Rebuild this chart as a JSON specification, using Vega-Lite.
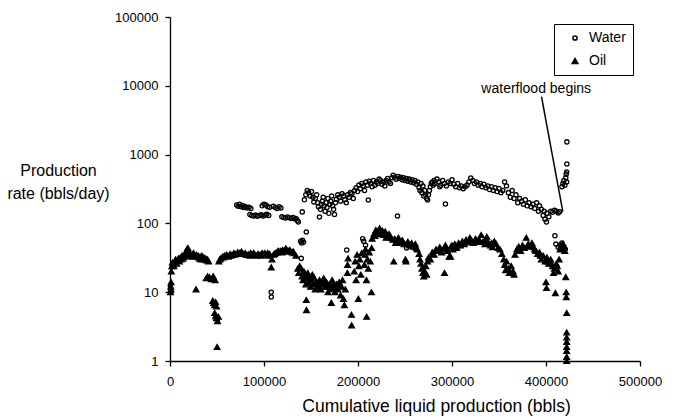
{
  "$schema": "https://vega.github.io/schema/vega-lite/v6.json",
  "width": 470,
  "height": 344,
  "autosize": {"type": "none"},
  "padding": {"left": 170, "top": 17, "right": 36, "bottom": 58},
  "config": {
    "view": {"stroke": null},
    "font": "Liberation Sans",
    "axis": {"domainColor": "black", "tickColor": "black", "labelColor": "black", "titleColor": "black", "grid": false, "labelFont": "Liberation Sans", "titleFont": "Liberation Sans", "labelFontSize": 13, "titleFontWeight": "normal", "tickSize": 5, "domainWidth": 1.3, "tickWidth": 1.3}
  },
  "datasets": {
    "pts": [
{"cum":500,"rate":10,"fluid":"Oil"},{"cum":800,"rate":12,"fluid":"Oil"},{"cum":1000,"rate":11,"fluid":"Oil"},{"cum":1200,"rate":14,"fluid":"Oil"},{"cum":1500,"rate":20,"fluid":"Oil"},{"cum":2000,"rate":24,"fluid":"Oil"},{"cum":2500,"rate":27,"fluid":"Oil"},{"cum":3000,"rate":25,"fluid":"Oil"},
{"cum":4000,"rate":24,"fluid":"Oil"},{"cum":5000,"rate":27,"fluid":"Oil"},{"cum":6000,"rate":30,"fluid":"Oil"},{"cum":7000,"rate":26,"fluid":"Oil"},{"cum":8000,"rate":29,"fluid":"Oil"},{"cum":9000,"rate":31,"fluid":"Oil"},{"cum":10000,"rate":28,"fluid":"Oil"},{"cum":11000,"rate":32,"fluid":"Oil"},{"cum":12000,"rate":30,"fluid":"Oil"},{"cum":13000,"rate":34,"fluid":"Oil"},{"cum":14000,"rate":31,"fluid":"Oil"},{"cum":15000,"rate":33,"fluid":"Oil"},{"cum":16000,"rate":36,"fluid":"Oil"},{"cum":17000,"rate":38,"fluid":"Oil"},{"cum":18000,"rate":42,"fluid":"Oil"},{"cum":19000,"rate":44,"fluid":"Oil"},{"cum":20000,"rate":38,"fluid":"Oil"},{"cum":21000,"rate":34,"fluid":"Oil"},{"cum":22000,"rate":36,"fluid":"Oil"},{"cum":23000,"rate":33,"fluid":"Oil"},{"cum":24000,"rate":35,"fluid":"Oil"},{"cum":25000,"rate":37,"fluid":"Oil"},{"cum":26000,"rate":34,"fluid":"Oil"},{"cum":27700,"rate":11,"fluid":"Oil"},{"cum":28000,"rate":35,"fluid":"Oil"},{"cum":29000,"rate":33,"fluid":"Oil"},{"cum":30000,"rate":34,"fluid":"Oil"},{"cum":31000,"rate":31,"fluid":"Oil"},{"cum":32000,"rate":33,"fluid":"Oil"},{"cum":33000,"rate":30,"fluid":"Oil"},{"cum":34000,"rate":34,"fluid":"Oil"},{"cum":35000,"rate":31,"fluid":"Oil"},{"cum":36000,"rate":32,"fluid":"Oil"},{"cum":37000,"rate":30,"fluid":"Oil"},{"cum":38000,"rate":31,"fluid":"Oil"},{"cum":39000,"rate":29,"fluid":"Oil"},{"cum":40000,"rate":30,"fluid":"Oil"},{"cum":41000,"rate":28,"fluid":"Oil"},
{"cum":38500,"rate":16,"fluid":"Oil"},{"cum":40000,"rate":17,"fluid":"Oil"},{"cum":42000,"rate":16.5,"fluid":"Oil"},{"cum":44000,"rate":15.5,"fluid":"Oil"},{"cum":46000,"rate":17,"fluid":"Oil"},{"cum":48000,"rate":15,"fluid":"Oil"},
{"cum":45500,"rate":7.5,"fluid":"Oil"},{"cum":46500,"rate":7,"fluid":"Oil"},{"cum":47500,"rate":6.5,"fluid":"Oil"},{"cum":48500,"rate":7.2,"fluid":"Oil"},{"cum":49500,"rate":6.2,"fluid":"Oil"},
{"cum":47500,"rate":5,"fluid":"Oil"},{"cum":48500,"rate":4.5,"fluid":"Oil"},{"cum":49500,"rate":4.2,"fluid":"Oil"},{"cum":50500,"rate":3.8,"fluid":"Oil"},{"cum":51500,"rate":4.4,"fluid":"Oil"},{"cum":50100,"rate":1.6,"fluid":"Oil"},
{"cum":52000,"rate":28,"fluid":"Oil"},{"cum":54000,"rate":31,"fluid":"Oil"},{"cum":56000,"rate":33,"fluid":"Oil"},{"cum":58000,"rate":34,"fluid":"Oil"},{"cum":60000,"rate":35,"fluid":"Oil"},{"cum":62000,"rate":33,"fluid":"Oil"},{"cum":64000,"rate":36,"fluid":"Oil"},{"cum":66000,"rate":35,"fluid":"Oil"},{"cum":68000,"rate":37,"fluid":"Oil"},{"cum":70000,"rate":36,"fluid":"Oil"},{"cum":72000,"rate":38,"fluid":"Oil"},{"cum":74000,"rate":37,"fluid":"Oil"},{"cum":76000,"rate":39,"fluid":"Oil"},{"cum":78000,"rate":36,"fluid":"Oil"},{"cum":80000,"rate":37,"fluid":"Oil"},{"cum":82000,"rate":35,"fluid":"Oil"},{"cum":84000,"rate":36,"fluid":"Oil"},{"cum":86000,"rate":37,"fluid":"Oil"},{"cum":88000,"rate":35,"fluid":"Oil"},{"cum":90000,"rate":36,"fluid":"Oil"},{"cum":92000,"rate":34,"fluid":"Oil"},{"cum":94000,"rate":36,"fluid":"Oil"},{"cum":96000,"rate":35,"fluid":"Oil"},{"cum":98000,"rate":37,"fluid":"Oil"},{"cum":100000,"rate":36,"fluid":"Oil"},{"cum":102000,"rate":35,"fluid":"Oil"},{"cum":104000,"rate":37,"fluid":"Oil"},{"cum":106000,"rate":36,"fluid":"Oil"},{"cum":107700,"rate":23,"fluid":"Oil"},{"cum":108500,"rate":30,"fluid":"Oil"},{"cum":110000,"rate":35,"fluid":"Oil"},{"cum":112000,"rate":37,"fluid":"Oil"},{"cum":114000,"rate":38,"fluid":"Oil"},{"cum":116000,"rate":39,"fluid":"Oil"},{"cum":118000,"rate":40,"fluid":"Oil"},{"cum":120000,"rate":41,"fluid":"Oil"},{"cum":122000,"rate":40,"fluid":"Oil"},{"cum":124000,"rate":42,"fluid":"Oil"},{"cum":126000,"rate":39,"fluid":"Oil"},{"cum":128000,"rate":40,"fluid":"Oil"},{"cum":130000,"rate":38,"fluid":"Oil"},{"cum":132000,"rate":37,"fluid":"Oil"},{"cum":134000,"rate":34,"fluid":"Oil"},
{"cum":53000,"rate":30,"fluid":"Oil"},{"cum":57000,"rate":32,"fluid":"Oil"},{"cum":61000,"rate":34,"fluid":"Oil"},{"cum":65000,"rate":34,"fluid":"Oil"},{"cum":69000,"rate":35,"fluid":"Oil"},{"cum":73000,"rate":36,"fluid":"Oil"},{"cum":77000,"rate":37,"fluid":"Oil"},{"cum":81000,"rate":35,"fluid":"Oil"},{"cum":85000,"rate":34,"fluid":"Oil"},{"cum":89000,"rate":37,"fluid":"Oil"},{"cum":93000,"rate":35,"fluid":"Oil"},{"cum":97000,"rate":34,"fluid":"Oil"},{"cum":101000,"rate":37,"fluid":"Oil"},{"cum":105000,"rate":34,"fluid":"Oil"},{"cum":111000,"rate":36,"fluid":"Oil"},{"cum":115000,"rate":40,"fluid":"Oil"},{"cum":119000,"rate":38,"fluid":"Oil"},{"cum":123000,"rate":43,"fluid":"Oil"},{"cum":127000,"rate":41,"fluid":"Oil"},{"cum":131000,"rate":39,"fluid":"Oil"},
{"cum":136000,"rate":22,"fluid":"Oil"},{"cum":137000,"rate":19,"fluid":"Oil"},{"cum":138000,"rate":24,"fluid":"Oil"},{"cum":139600,"rate":22,"fluid":"Oil"},{"cum":140500,"rate":17,"fluid":"Oil"},{"cum":141500,"rate":15,"fluid":"Oil"},{"cum":142500,"rate":20,"fluid":"Oil"},{"cum":143500,"rate":18,"fluid":"Oil"},{"cum":144500,"rate":13,"fluid":"Oil"},{"cum":145500,"rate":16,"fluid":"Oil"},{"cum":146500,"rate":19,"fluid":"Oil"},{"cum":147500,"rate":14,"fluid":"Oil"},{"cum":148500,"rate":17,"fluid":"Oil"},{"cum":149500,"rate":12,"fluid":"Oil"},{"cum":150500,"rate":15,"fluid":"Oil"},{"cum":151500,"rate":18,"fluid":"Oil"},{"cum":152500,"rate":13,"fluid":"Oil"},{"cum":153500,"rate":16,"fluid":"Oil"},{"cum":154500,"rate":11,"fluid":"Oil"},{"cum":145000,"rate":7.7,"fluid":"Oil"},{"cum":145200,"rate":5.5,"fluid":"Oil"},{"cum":156000,"rate":14,"fluid":"Oil"},{"cum":157500,"rate":12,"fluid":"Oil"},{"cum":159000,"rate":15,"fluid":"Oil"},{"cum":160500,"rate":11,"fluid":"Oil"},{"cum":162000,"rate":13,"fluid":"Oil"},{"cum":163500,"rate":16,"fluid":"Oil"},{"cum":165000,"rate":12,"fluid":"Oil"},{"cum":166500,"rate":14,"fluid":"Oil"},{"cum":168000,"rate":10,"fluid":"Oil"},{"cum":169500,"rate":13,"fluid":"Oil"},{"cum":171000,"rate":11,"fluid":"Oil"},{"cum":172500,"rate":15,"fluid":"Oil"},{"cum":174000,"rate":12,"fluid":"Oil"},{"cum":175500,"rate":10,"fluid":"Oil"},{"cum":177000,"rate":13,"fluid":"Oil"},{"cum":178500,"rate":11,"fluid":"Oil"},{"cum":180000,"rate":14,"fluid":"Oil"},{"cum":181500,"rate":9,"fluid":"Oil"},{"cum":182500,"rate":12,"fluid":"Oil"},{"cum":183500,"rate":15,"fluid":"Oil"},{"cum":184500,"rate":8,"fluid":"Oil"},{"cum":185500,"rate":6.5,"fluid":"Oil"},{"cum":171600,"rate":7,"fluid":"Oil"},{"cum":186500,"rate":11,"fluid":"Oil"},{"cum":188700,"rate":19,"fluid":"Oil"},{"cum":188900,"rate":25,"fluid":"Oil"},{"cum":189500,"rate":31,"fluid":"Oil"},{"cum":193000,"rate":4.7,"fluid":"Oil"},{"cum":193200,"rate":3.3,"fluid":"Oil"},{"cum":196000,"rate":20,"fluid":"Oil"},{"cum":197000,"rate":28,"fluid":"Oil"},{"cum":198000,"rate":15,"fluid":"Oil"},{"cum":199000,"rate":35,"fluid":"Oil"},{"cum":200400,"rate":8,"fluid":"Oil"},{"cum":201000,"rate":24,"fluid":"Oil"},{"cum":202000,"rate":30,"fluid":"Oil"},{"cum":203000,"rate":18,"fluid":"Oil"},{"cum":204000,"rate":37,"fluid":"Oil"},{"cum":206800,"rate":25,"fluid":"Oil"},{"cum":207500,"rate":35,"fluid":"Oil"},{"cum":208000,"rate":42,"fluid":"Oil"},{"cum":209000,"rate":15,"fluid":"Oil"},{"cum":209200,"rate":4.4,"fluid":"Oil"},{"cum":210000,"rate":30,"fluid":"Oil"},{"cum":211000,"rate":22,"fluid":"Oil"},{"cum":212000,"rate":38,"fluid":"Oil"},{"cum":213000,"rate":28,"fluid":"Oil"},{"cum":214300,"rate":10,"fluid":"Oil"},{"cum":214500,"rate":44,"fluid":"Oil"},
{"cum":158000,"rate":13,"fluid":"Oil"},{"cum":161500,"rate":14,"fluid":"Oil"},{"cum":164500,"rate":13.5,"fluid":"Oil"},{"cum":167500,"rate":12,"fluid":"Oil"},{"cum":170500,"rate":12.5,"fluid":"Oil"},{"cum":173500,"rate":13,"fluid":"Oil"},{"cum":176500,"rate":11.5,"fluid":"Oil"},{"cum":179500,"rate":12,"fluid":"Oil"},{"cum":143000,"rate":16,"fluid":"Oil"},{"cum":147000,"rate":17,"fluid":"Oil"},{"cum":151000,"rate":16,"fluid":"Oil"},
{"cum":215000,"rate":60,"fluid":"Oil"},{"cum":217000,"rate":70,"fluid":"Oil"},{"cum":219000,"rate":80,"fluid":"Oil"},{"cum":221000,"rate":75,"fluid":"Oil"},{"cum":223000,"rate":85,"fluid":"Oil"},{"cum":225000,"rate":72,"fluid":"Oil"},{"cum":227000,"rate":68,"fluid":"Oil"},{"cum":229000,"rate":76,"fluid":"Oil"},{"cum":231000,"rate":65,"fluid":"Oil"},{"cum":233000,"rate":70,"fluid":"Oil"},{"cum":235000,"rate":62,"fluid":"Oil"},{"cum":237000,"rate":58,"fluid":"Oil"},{"cum":238000,"rate":28,"fluid":"Oil"},{"cum":239000,"rate":60,"fluid":"Oil"},{"cum":241000,"rate":55,"fluid":"Oil"},{"cum":243000,"rate":62,"fluid":"Oil"},{"cum":245000,"rate":52,"fluid":"Oil"},{"cum":247000,"rate":57,"fluid":"Oil"},{"cum":249000,"rate":50,"fluid":"Oil"},{"cum":250500,"rate":30,"fluid":"Oil"},{"cum":251000,"rate":28,"fluid":"Oil"},{"cum":253000,"rate":54,"fluid":"Oil"},{"cum":255000,"rate":48,"fluid":"Oil"},{"cum":257000,"rate":52,"fluid":"Oil"},{"cum":259000,"rate":46,"fluid":"Oil"},{"cum":261000,"rate":50,"fluid":"Oil"},{"cum":263000,"rate":42,"fluid":"Oil"},{"cum":265000,"rate":36,"fluid":"Oil"},{"cum":266000,"rate":30,"fluid":"Oil"},{"cum":267000,"rate":26,"fluid":"Oil"},{"cum":268000,"rate":22,"fluid":"Oil"},{"cum":269000,"rate":19,"fluid":"Oil"},{"cum":270000,"rate":17,"fluid":"Oil"},{"cum":271000,"rate":20,"fluid":"Oil"},{"cum":272000,"rate":24,"fluid":"Oil"},{"cum":273000,"rate":18,"fluid":"Oil"},{"cum":274000,"rate":28,"fluid":"Oil"},{"cum":275000,"rate":32,"fluid":"Oil"},{"cum":277000,"rate":30,"fluid":"Oil"},{"cum":279000,"rate":38,"fluid":"Oil"},{"cum":281000,"rate":35,"fluid":"Oil"},{"cum":283000,"rate":42,"fluid":"Oil"},{"cum":285000,"rate":40,"fluid":"Oil"},{"cum":287000,"rate":45,"fluid":"Oil"},{"cum":289000,"rate":38,"fluid":"Oil"},{"cum":291000,"rate":43,"fluid":"Oil"},{"cum":292000,"rate":19,"fluid":"Oil"},{"cum":293000,"rate":48,"fluid":"Oil"},{"cum":295000,"rate":40,"fluid":"Oil"},{"cum":297000,"rate":33,"fluid":"Oil"},{"cum":298500,"rate":33,"fluid":"Oil"},{"cum":299000,"rate":46,"fluid":"Oil"},{"cum":301000,"rate":42,"fluid":"Oil"},{"cum":303000,"rate":50,"fluid":"Oil"},{"cum":305000,"rate":44,"fluid":"Oil"},{"cum":307000,"rate":52,"fluid":"Oil"},{"cum":309000,"rate":48,"fluid":"Oil"},{"cum":311000,"rate":55,"fluid":"Oil"},{"cum":313000,"rate":50,"fluid":"Oil"},{"cum":315000,"rate":58,"fluid":"Oil"},{"cum":317000,"rate":53,"fluid":"Oil"},{"cum":319000,"rate":62,"fluid":"Oil"},{"cum":321000,"rate":56,"fluid":"Oil"},{"cum":323000,"rate":52,"fluid":"Oil"},{"cum":325000,"rate":60,"fluid":"Oil"},{"cum":327000,"rate":55,"fluid":"Oil"},{"cum":329000,"rate":58,"fluid":"Oil"},{"cum":331000,"rate":68,"fluid":"Oil"},{"cum":333000,"rate":54,"fluid":"Oil"},{"cum":335000,"rate":50,"fluid":"Oil"},{"cum":337000,"rate":64,"fluid":"Oil"},{"cum":339000,"rate":52,"fluid":"Oil"},{"cum":341000,"rate":48,"fluid":"Oil"},{"cum":343000,"rate":45,"fluid":"Oil"},{"cum":345000,"rate":55,"fluid":"Oil"},{"cum":347000,"rate":50,"fluid":"Oil"},{"cum":349000,"rate":44,"fluid":"Oil"},{"cum":351000,"rate":42,"fluid":"Oil"},{"cum":353000,"rate":36,"fluid":"Oil"},{"cum":355000,"rate":30,"fluid":"Oil"},{"cum":356000,"rate":25,"fluid":"Oil"},{"cum":357000,"rate":21,"fluid":"Oil"},{"cum":358000,"rate":28,"fluid":"Oil"},{"cum":360000,"rate":22,"fluid":"Oil"},{"cum":361000,"rate":19,"fluid":"Oil"},{"cum":363000,"rate":24,"fluid":"Oil"},{"cum":365000,"rate":20,"fluid":"Oil"},{"cum":366000,"rate":18,"fluid":"Oil"},{"cum":367000,"rate":35,"fluid":"Oil"},{"cum":369000,"rate":42,"fluid":"Oil"},{"cum":371000,"rate":46,"fluid":"Oil"},{"cum":373000,"rate":40,"fluid":"Oil"},{"cum":375000,"rate":48,"fluid":"Oil"},{"cum":377000,"rate":44,"fluid":"Oil"},{"cum":379000,"rate":62,"fluid":"Oil"},{"cum":381000,"rate":50,"fluid":"Oil"},{"cum":383000,"rate":46,"fluid":"Oil"},{"cum":385000,"rate":52,"fluid":"Oil"},{"cum":387000,"rate":45,"fluid":"Oil"},{"cum":389000,"rate":40,"fluid":"Oil"},{"cum":391000,"rate":36,"fluid":"Oil"},{"cum":393000,"rate":38,"fluid":"Oil"},{"cum":395000,"rate":30,"fluid":"Oil"},{"cum":397000,"rate":34,"fluid":"Oil"},{"cum":399000,"rate":28,"fluid":"Oil"},{"cum":400000,"rate":14,"fluid":"Oil"},{"cum":400500,"rate":11.5,"fluid":"Oil"},{"cum":401000,"rate":32,"fluid":"Oil"},{"cum":403000,"rate":26,"fluid":"Oil"},{"cum":405000,"rate":30,"fluid":"Oil"},{"cum":407000,"rate":24,"fluid":"Oil"},{"cum":408000,"rate":19,"fluid":"Oil"},{"cum":409000,"rate":22,"fluid":"Oil"},{"cum":410000,"rate":9.7,"fluid":"Oil"},{"cum":411000,"rate":26,"fluid":"Oil"},{"cum":413000,"rate":20,"fluid":"Oil"},{"cum":414000,"rate":30,"fluid":"Oil"},{"cum":415000,"rate":42,"fluid":"Oil"},{"cum":416000,"rate":48,"fluid":"Oil"},{"cum":417000,"rate":44,"fluid":"Oil"},{"cum":418000,"rate":50,"fluid":"Oil"},{"cum":419000,"rate":46,"fluid":"Oil"},{"cum":420000,"rate":40,"fluid":"Oil"},{"cum":421000,"rate":16.6,"fluid":"Oil"},{"cum":421500,"rate":10,"fluid":"Oil"},{"cum":421600,"rate":8.5,"fluid":"Oil"},{"cum":422000,"rate":5,"fluid":"Oil"},{"cum":422000,"rate":2.6,"fluid":"Oil"},{"cum":422000,"rate":2.2,"fluid":"Oil"},{"cum":422000,"rate":1.9,"fluid":"Oil"},{"cum":422000,"rate":1.6,"fluid":"Oil"},{"cum":422000,"rate":1.4,"fluid":"Oil"},{"cum":422000,"rate":1.15,"fluid":"Oil"},{"cum":422000,"rate":1.0,"fluid":"Oil"},
{"cum":218000,"rate":66,"fluid":"Oil"},{"cum":222000,"rate":70,"fluid":"Oil"},{"cum":226000,"rate":78,"fluid":"Oil"},{"cum":230000,"rate":62,"fluid":"Oil"},{"cum":234000,"rate":66,"fluid":"Oil"},{"cum":240000,"rate":52,"fluid":"Oil"},{"cum":244000,"rate":56,"fluid":"Oil"},{"cum":248000,"rate":54,"fluid":"Oil"},{"cum":254000,"rate":50,"fluid":"Oil"},{"cum":258000,"rate":48,"fluid":"Oil"},{"cum":262000,"rate":44,"fluid":"Oil"},{"cum":280000,"rate":36,"fluid":"Oil"},{"cum":286000,"rate":42,"fluid":"Oil"},{"cum":294000,"rate":44,"fluid":"Oil"},{"cum":300000,"rate":48,"fluid":"Oil"},{"cum":306000,"rate":48,"fluid":"Oil"},{"cum":312000,"rate":52,"fluid":"Oil"},{"cum":318000,"rate":56,"fluid":"Oil"},{"cum":324000,"rate":55,"fluid":"Oil"},{"cum":330000,"rate":54,"fluid":"Oil"},{"cum":336000,"rate":56,"fluid":"Oil"},{"cum":342000,"rate":52,"fluid":"Oil"},{"cum":370000,"rate":40,"fluid":"Oil"},{"cum":376000,"rate":44,"fluid":"Oil"},{"cum":382000,"rate":48,"fluid":"Oil"},{"cum":388000,"rate":42,"fluid":"Oil"},{"cum":394000,"rate":34,"fluid":"Oil"},{"cum":402000,"rate":28,"fluid":"Oil"},{"cum":406000,"rate":26,"fluid":"Oil"},{"cum":412000,"rate":24,"fluid":"Oil"},
{"cum":500,"rate":12,"fluid":"Water"},{"cum":1000,"rate":10,"fluid":"Water"},
{"cum":71000,"rate":185,"fluid":"Water"},{"cum":72500,"rate":178,"fluid":"Water"},{"cum":74000,"rate":190,"fluid":"Water"},{"cum":75500,"rate":175,"fluid":"Water"},{"cum":77000,"rate":182,"fluid":"Water"},{"cum":78500,"rate":170,"fluid":"Water"},{"cum":80000,"rate":176,"fluid":"Water"},{"cum":82000,"rate":168,"fluid":"Water"},{"cum":84000,"rate":172,"fluid":"Water"},{"cum":86000,"rate":165,"fluid":"Water"},
{"cum":85000,"rate":135,"fluid":"Water"},{"cum":87000,"rate":130,"fluid":"Water"},{"cum":89000,"rate":128,"fluid":"Water"},{"cum":91000,"rate":132,"fluid":"Water"},{"cum":93000,"rate":127,"fluid":"Water"},{"cum":95000,"rate":130,"fluid":"Water"},{"cum":97000,"rate":134,"fluid":"Water"},{"cum":99000,"rate":128,"fluid":"Water"},{"cum":101000,"rate":131,"fluid":"Water"},{"cum":103000,"rate":136,"fluid":"Water"},{"cum":105000,"rate":130,"fluid":"Water"},
{"cum":98000,"rate":180,"fluid":"Water"},{"cum":100000,"rate":190,"fluid":"Water"},{"cum":102000,"rate":185,"fluid":"Water"},{"cum":104000,"rate":175,"fluid":"Water"},{"cum":106000,"rate":172,"fluid":"Water"},{"cum":110000,"rate":178,"fluid":"Water"},{"cum":112000,"rate":170,"fluid":"Water"},{"cum":114000,"rate":165,"fluid":"Water"},{"cum":116000,"rate":175,"fluid":"Water"},{"cum":118000,"rate":168,"fluid":"Water"},
{"cum":107700,"rate":10,"fluid":"Water"},{"cum":107800,"rate":8.5,"fluid":"Water"},
{"cum":119000,"rate":125,"fluid":"Water"},{"cum":121000,"rate":122,"fluid":"Water"},{"cum":123000,"rate":120,"fluid":"Water"},{"cum":125000,"rate":124,"fluid":"Water"},{"cum":127000,"rate":121,"fluid":"Water"},{"cum":129000,"rate":118,"fluid":"Water"},{"cum":131000,"rate":122,"fluid":"Water"},{"cum":133000,"rate":116,"fluid":"Water"},{"cum":134000,"rate":118,"fluid":"Water"},{"cum":135500,"rate":110,"fluid":"Water"},{"cum":136500,"rate":105,"fluid":"Water"},
{"cum":139600,"rate":31,"fluid":"Water"},{"cum":139000,"rate":55,"fluid":"Water"},{"cum":140000,"rate":52,"fluid":"Water"},{"cum":141000,"rate":57,"fluid":"Water"},{"cum":142000,"rate":53,"fluid":"Water"},{"cum":145000,"rate":75,"fluid":"Water"},{"cum":140700,"rate":147,"fluid":"Water"},
{"cum":143000,"rate":220,"fluid":"Water"},{"cum":144500,"rate":260,"fluid":"Water"},{"cum":146000,"rate":300,"fluid":"Water"},{"cum":147500,"rate":280,"fluid":"Water"},{"cum":149000,"rate":250,"fluid":"Water"},{"cum":150500,"rate":290,"fluid":"Water"},{"cum":152000,"rate":240,"fluid":"Water"},{"cum":153000,"rate":205,"fluid":"Water"},
{"cum":154500,"rate":230,"fluid":"Water"},{"cum":156000,"rate":260,"fluid":"Water"},{"cum":157000,"rate":200,"fluid":"Water"},{"cum":158000,"rate":175,"fluid":"Water"},{"cum":159000,"rate":124,"fluid":"Water"},{"cum":160000,"rate":160,"fluid":"Water"},{"cum":161000,"rate":190,"fluid":"Water"},{"cum":162000,"rate":210,"fluid":"Water"},{"cum":163000,"rate":240,"fluid":"Water"},{"cum":164000,"rate":180,"fluid":"Water"},{"cum":165000,"rate":150,"fluid":"Water"},{"cum":166000,"rate":200,"fluid":"Water"},{"cum":167000,"rate":170,"fluid":"Water"},{"cum":168000,"rate":230,"fluid":"Water"},{"cum":169000,"rate":140,"fluid":"Water"},{"cum":170000,"rate":190,"fluid":"Water"},{"cum":171000,"rate":210,"fluid":"Water"},{"cum":172000,"rate":250,"fluid":"Water"},{"cum":173000,"rate":180,"fluid":"Water"},{"cum":174000,"rate":160,"fluid":"Water"},{"cum":175000,"rate":135,"fluid":"Water"},{"cum":176000,"rate":200,"fluid":"Water"},{"cum":177000,"rate":225,"fluid":"Water"},
{"cum":178500,"rate":260,"fluid":"Water"},{"cum":180000,"rate":240,"fluid":"Water"},{"cum":181500,"rate":210,"fluid":"Water"},{"cum":183000,"rate":270,"fluid":"Water"},{"cum":184500,"rate":250,"fluid":"Water"},{"cum":186000,"rate":220,"fluid":"Water"},{"cum":187500,"rate":200,"fluid":"Water"},{"cum":189000,"rate":260,"fluid":"Water"},{"cum":190500,"rate":240,"fluid":"Water"},{"cum":192000,"rate":280,"fluid":"Water"},{"cum":193500,"rate":270,"fluid":"Water"},{"cum":195000,"rate":230,"fluid":"Water"},
{"cum":188000,"rate":41,"fluid":"Water"},{"cum":205000,"rate":60,"fluid":"Water"},{"cum":206000,"rate":55,"fluid":"Water"},{"cum":208000,"rate":48,"fluid":"Water"},
{"cum":196500,"rate":300,"fluid":"Water"},{"cum":198000,"rate":330,"fluid":"Water"},{"cum":199500,"rate":290,"fluid":"Water"},{"cum":201000,"rate":360,"fluid":"Water"},{"cum":202500,"rate":320,"fluid":"Water"},{"cum":204000,"rate":380,"fluid":"Water"},{"cum":205500,"rate":350,"fluid":"Water"},{"cum":207000,"rate":300,"fluid":"Water"},{"cum":208500,"rate":400,"fluid":"Water"},{"cum":210000,"rate":360,"fluid":"Water"},{"cum":211000,"rate":219,"fluid":"Water"},{"cum":212000,"rate":410,"fluid":"Water"},{"cum":213500,"rate":380,"fluid":"Water"},{"cum":215000,"rate":340,"fluid":"Water"},{"cum":216500,"rate":420,"fluid":"Water"},
{"cum":218000,"rate":360,"fluid":"Water"},{"cum":219500,"rate":400,"fluid":"Water"},{"cum":221000,"rate":380,"fluid":"Water"},{"cum":222500,"rate":440,"fluid":"Water"},{"cum":224000,"rate":420,"fluid":"Water"},{"cum":225500,"rate":370,"fluid":"Water"},{"cum":227000,"rate":400,"fluid":"Water"},{"cum":228500,"rate":350,"fluid":"Water"},{"cum":230000,"rate":420,"fluid":"Water"},{"cum":231500,"rate":450,"fluid":"Water"},{"cum":233000,"rate":400,"fluid":"Water"},{"cum":234500,"rate":380,"fluid":"Water"},
{"cum":236000,"rate":460,"fluid":"Water"},{"cum":237500,"rate":500,"fluid":"Water"},{"cum":239000,"rate":470,"fluid":"Water"},{"cum":240500,"rate":440,"fluid":"Water"},{"cum":242000,"rate":128,"fluid":"Water"},{"cum":242500,"rate":480,"fluid":"Water"},{"cum":244000,"rate":450,"fluid":"Water"},{"cum":245500,"rate":470,"fluid":"Water"},{"cum":247000,"rate":430,"fluid":"Water"},{"cum":248500,"rate":460,"fluid":"Water"},{"cum":250000,"rate":420,"fluid":"Water"},{"cum":251500,"rate":450,"fluid":"Water"},{"cum":251600,"rate":44,"fluid":"Water"},{"cum":253000,"rate":410,"fluid":"Water"},{"cum":254500,"rate":440,"fluid":"Water"},{"cum":256000,"rate":400,"fluid":"Water"},{"cum":257500,"rate":430,"fluid":"Water"},{"cum":259000,"rate":390,"fluid":"Water"},{"cum":260500,"rate":420,"fluid":"Water"},{"cum":262000,"rate":370,"fluid":"Water"},{"cum":263500,"rate":400,"fluid":"Water"},
{"cum":265000,"rate":330,"fluid":"Water"},{"cum":266000,"rate":300,"fluid":"Water"},{"cum":267000,"rate":380,"fluid":"Water"},{"cum":268000,"rate":280,"fluid":"Water"},{"cum":269000,"rate":350,"fluid":"Water"},{"cum":270000,"rate":250,"fluid":"Water"},{"cum":271000,"rate":300,"fluid":"Water"},{"cum":272000,"rate":260,"fluid":"Water"},{"cum":273000,"rate":230,"fluid":"Water"},{"cum":274000,"rate":219,"fluid":"Water"},{"cum":275000,"rate":260,"fluid":"Water"},{"cum":276000,"rate":300,"fluid":"Water"},{"cum":277000,"rate":340,"fluid":"Water"},{"cum":278000,"rate":380,"fluid":"Water"},{"cum":279000,"rate":400,"fluid":"Water"},{"cum":280000,"rate":360,"fluid":"Water"},{"cum":281000,"rate":420,"fluid":"Water"},{"cum":282000,"rate":380,"fluid":"Water"},{"cum":284000,"rate":440,"fluid":"Water"},{"cum":286000,"rate":400,"fluid":"Water"},{"cum":287000,"rate":340,"fluid":"Water"},{"cum":288000,"rate":360,"fluid":"Water"},{"cum":290000,"rate":420,"fluid":"Water"},{"cum":292000,"rate":380,"fluid":"Water"},{"cum":293000,"rate":191,"fluid":"Water"},{"cum":294000,"rate":350,"fluid":"Water"},{"cum":296000,"rate":400,"fluid":"Water"},{"cum":298000,"rate":380,"fluid":"Water"},{"cum":300000,"rate":430,"fluid":"Water"},{"cum":302000,"rate":370,"fluid":"Water"},{"cum":304000,"rate":340,"fluid":"Water"},{"cum":306000,"rate":380,"fluid":"Water"},{"cum":308000,"rate":330,"fluid":"Water"},{"cum":310000,"rate":350,"fluid":"Water"},{"cum":312000,"rate":320,"fluid":"Water"},{"cum":314000,"rate":340,"fluid":"Water"},{"cum":316000,"rate":360,"fluid":"Water"},{"cum":318000,"rate":400,"fluid":"Water"},{"cum":320000,"rate":457,"fluid":"Water"},{"cum":322000,"rate":420,"fluid":"Water"},{"cum":324000,"rate":380,"fluid":"Water"},{"cum":326000,"rate":400,"fluid":"Water"},{"cum":328000,"rate":360,"fluid":"Water"},{"cum":330000,"rate":380,"fluid":"Water"},{"cum":332000,"rate":340,"fluid":"Water"},{"cum":334000,"rate":370,"fluid":"Water"},{"cum":336000,"rate":330,"fluid":"Water"},{"cum":338000,"rate":350,"fluid":"Water"},{"cum":340000,"rate":310,"fluid":"Water"},{"cum":342000,"rate":340,"fluid":"Water"},{"cum":344000,"rate":300,"fluid":"Water"},{"cum":346000,"rate":330,"fluid":"Water"},{"cum":348000,"rate":290,"fluid":"Water"},{"cum":350000,"rate":320,"fluid":"Water"},{"cum":352000,"rate":280,"fluid":"Water"},{"cum":354000,"rate":300,"fluid":"Water"},{"cum":356000,"rate":400,"fluid":"Water"},{"cum":358000,"rate":350,"fluid":"Water"},{"cum":360000,"rate":280,"fluid":"Water"},{"cum":362000,"rate":240,"fluid":"Water"},{"cum":364000,"rate":300,"fluid":"Water"},{"cum":366000,"rate":230,"fluid":"Water"},{"cum":368000,"rate":260,"fluid":"Water"},{"cum":370000,"rate":200,"fluid":"Water"},{"cum":372000,"rate":230,"fluid":"Water"},{"cum":374000,"rate":210,"fluid":"Water"},{"cum":376000,"rate":190,"fluid":"Water"},{"cum":378000,"rate":220,"fluid":"Water"},{"cum":380000,"rate":180,"fluid":"Water"},{"cum":382000,"rate":200,"fluid":"Water"},{"cum":384000,"rate":175,"fluid":"Water"},{"cum":386000,"rate":190,"fluid":"Water"},{"cum":388000,"rate":165,"fluid":"Water"},{"cum":390000,"rate":200,"fluid":"Water"},{"cum":392000,"rate":150,"fluid":"Water"},{"cum":393000,"rate":180,"fluid":"Water"},{"cum":395000,"rate":160,"fluid":"Water"},{"cum":397000,"rate":130,"fluid":"Water"},{"cum":398000,"rate":150,"fluid":"Water"},{"cum":399000,"rate":115,"fluid":"Water"},{"cum":400500,"rate":105,"fluid":"Water"},{"cum":401000,"rate":140,"fluid":"Water"},{"cum":403000,"rate":125,"fluid":"Water"},{"cum":405000,"rate":150,"fluid":"Water"},{"cum":407000,"rate":145,"fluid":"Water"},{"cum":409000,"rate":155,"fluid":"Water"},{"cum":411000,"rate":150,"fluid":"Water"},{"cum":413000,"rate":142,"fluid":"Water"},{"cum":414500,"rate":148,"fluid":"Water"},
{"cum":409500,"rate":66,"fluid":"Water"},{"cum":410500,"rate":50,"fluid":"Water"},{"cum":413000,"rate":45,"fluid":"Water"},{"cum":415000,"rate":48,"fluid":"Water"},{"cum":417000,"rate":52,"fluid":"Water"},{"cum":419000,"rate":46,"fluid":"Water"},{"cum":420500,"rate":42,"fluid":"Water"},
{"cum":417000,"rate":340,"fluid":"Water"},{"cum":418000,"rate":380,"fluid":"Water"},{"cum":419000,"rate":420,"fluid":"Water"},{"cum":420000,"rate":360,"fluid":"Water"},{"cum":421000,"rate":460,"fluid":"Water"},{"cum":421500,"rate":520,"fluid":"Water"},{"cum":422000,"rate":400,"fluid":"Water"},{"cum":422000,"rate":560,"fluid":"Water"},{"cum":422200,"rate":730,"fluid":"Water"},{"cum":422200,"rate":1530,"fluid":"Water"}
    ],
    "arrow": [{"cum": 395200, "rate": 6950, "cum2": 417900, "rate2": 148}],
    "note": [{"cum": 389600, "rate": 8980, "label": "waterflood begins"}]
  },
  "layer": [
    {
      "data": {"name": "pts"},
      "mark": {"type": "point", "stroke": "black", "strokeWidth": 1.3, "opacity": 1},
      "encoding": {
        "x": {"field": "cum", "type": "quantitative", "title": "Cumulative liquid production (bbls)",
              "scale": {"domain": [0, 500000], "nice": false},
              "axis": {"values": [0, 100000, 200000, 300000, 400000, 500000], "format": "d", "labelPadding": 9, "titleFontSize": 17.5, "titleX": 266, "titleY": 45, "titleAlign": "center", "titleBaseline": "middle", "labelFlush": false}},
        "y": {"field": "rate", "type": "quantitative", "title": ["Production", "rate (bbls/day)"],
              "scale": {"type": "log", "domain": [1, 100000], "nice": false},
              "axis": {"values": [1, 10, 100, 1000, 10000, 100000], "format": "d", "labelPadding": 7, "titleAngle": 0, "titleX": -112, "titleY": 153, "titleAlign": "center", "titleBaseline": "middle", "titleFontSize": 16, "titleLineHeight": 23}},
        "fill": {"field": "fluid", "type": "nominal",
                 "scale": {"domain": ["Water", "Oil"], "range": ["transparent", "black"]},
                 "legend": {"orient": "none", "legendX": 384, "legendY": 7, "title": null, "strokeColor": "black", "padding": 7, "rowPadding": 9, "labelFontSize": 14, "labelFont": "Liberation Sans", "labelOffset": 7, "symbolOffset": 7,
                            "encode": {"symbols": {"update": {"stroke": {"value": "black"}, "strokeWidth": {"value": 1.3}}}}}},
        "shape": {"field": "fluid", "type": "nominal",
                  "scale": {"domain": ["Water", "Oil"], "range": ["circle", "triangle-up"]},
                  "legend": {"orient": "none", "legendX": 384, "legendY": 7, "title": null, "strokeColor": "black", "padding": 7, "rowPadding": 9, "labelFontSize": 14, "labelFont": "Liberation Sans", "labelOffset": 7, "symbolOffset": 7,
                            "encode": {"symbols": {"update": {"stroke": {"value": "black"}, "strokeWidth": {"value": 1.3}}}}}},
        "size": {"field": "fluid", "type": "nominal",
                 "scale": {"domain": ["Water", "Oil"], "range": [18, 32]},
                 "legend": {"orient": "none", "legendX": 384, "legendY": 7, "title": null, "strokeColor": "black", "padding": 7, "rowPadding": 9, "labelFontSize": 14, "labelFont": "Liberation Sans", "labelOffset": 7, "symbolOffset": 7,
                            "encode": {"symbols": {"update": {"stroke": {"value": "black"}, "strokeWidth": {"value": 1.3}}}}}}
      }
    },
    {
      "data": {"name": "arrow"},
      "mark": {"type": "rule", "stroke": "black", "strokeWidth": 1.5},
      "encoding": {
        "x": {"field": "cum", "type": "quantitative", "title": "Cumulative liquid production (bbls)"},
        "y": {"field": "rate", "type": "quantitative", "title": ["Production", "rate (bbls/day)"]},
        "x2": {"field": "cum2"},
        "y2": {"field": "rate2"}
      }
    },
    {
      "data": {"name": "note"},
      "mark": {"type": "text", "font": "Liberation Sans", "fontSize": 14, "align": "center", "baseline": "middle", "color": "black"},
      "encoding": {
        "x": {"field": "cum", "type": "quantitative", "title": "Cumulative liquid production (bbls)"},
        "y": {"field": "rate", "type": "quantitative", "title": ["Production", "rate (bbls/day)"]},
        "text": {"field": "label"}
      }
    }
  ]
}
